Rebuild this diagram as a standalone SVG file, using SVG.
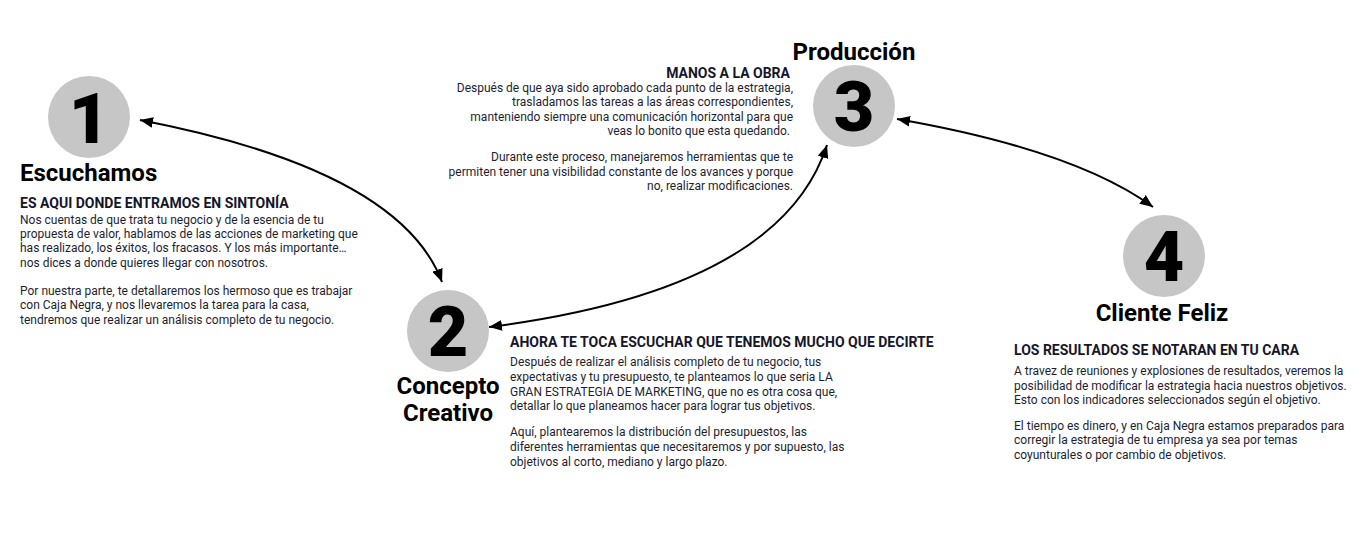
<svg xmlns="http://www.w3.org/2000/svg" width="1369" height="556" viewBox="0 0 1369 556">
<defs>
<style>
.circ{fill:#c6c6c6}
.num{font-family:Roboto,"Liberation Sans",sans-serif;font-weight:900;font-size:70px;fill:#000;text-anchor:middle}
.title{font-family:Roboto,"Liberation Sans",sans-serif;font-weight:700;font-size:24px;fill:#000}
.head{font-family:Roboto,"Liberation Sans",sans-serif;font-weight:700;font-size:14px;fill:#16162a}
.body{font-family:Roboto,"Liberation Sans",sans-serif;font-weight:400;font-size:12px;fill:#1e1e2e}
.conn{fill:none;stroke:#000;stroke-width:2}
</style>
<marker id="ah" viewBox="0 0 12 10" refX="12" refY="5" markerWidth="13" markerHeight="11" markerUnits="userSpaceOnUse" orient="auto-start-reverse">
<path d="M0,0 L12,5 L0,10 z" fill="#000"/>
</marker>
</defs>
<rect width="1369" height="556" fill="#fff"/>
<g id="connectors">
<path class="conn" d="M140,120 Q400,170 442,282" marker-start="url(#ah)" marker-end="url(#ah)"/>
<path class="conn" d="M489,327 Q780,290 827,145" marker-start="url(#ah)" marker-end="url(#ah)"/>
<path class="conn" d="M897,119 Q1075,150 1153,207" marker-start="url(#ah)" marker-end="url(#ah)"/>
</g>
<g id="node1">
<circle class="circ" cx="89" cy="117" r="41"/>
<text class="num" x="89" y="143">1</text>
<text class="title" x="20" y="181">Escuchamos</text>
<text class="head" x="20" y="207.5">ES AQUI DONDE ENTRAMOS EN SINTONÍA</text>
<text class="body" x="20" y="223.5">Nos cuentas de que trata tu negocio y de la esencia de tu</text>
<text class="body" x="20" y="238">propuesta de valor, hablamos de las acciones de marketing que</text>
<text class="body" x="20" y="252">has realizado, los éxitos, los fracasos. Y los más importante…</text>
<text class="body" x="20" y="266.5">nos dices a donde quieres llegar con nosotros.</text>
<text class="body" x="20" y="294.5">Por nuestra parte, te detallaremos los hermoso que es trabajar</text>
<text class="body" x="20" y="309">con Caja Negra, y nos llevaremos la tarea para la casa,</text>
<text class="body" x="20" y="323.5">tendremos que realizar un análisis completo de tu negocio.</text>
</g>
<g id="node2">
<circle class="circ" cx="448" cy="331" r="41"/>
<text class="num" x="448" y="356">2</text>
<text class="title" x="448" y="394" text-anchor="middle">Concepto</text>
<text class="title" x="448" y="421" text-anchor="middle">Creativo</text>
<text class="head" x="510" y="347">AHORA TE TOCA ESCUCHAR QUE TENEMOS MUCHO QUE DECIRTE</text>
<text class="body" x="510" y="366">Después de realizar el análisis completo de tu negocio, tus</text>
<text class="body" x="510" y="381">expectativas y tu presupuesto, te planteamos lo que seria LA</text>
<text class="body" x="510" y="396">GRAN ESTRATEGIA DE MARKETING, que no es otra cosa que,</text>
<text class="body" x="510" y="410">detallar lo que planeamos hacer para lograr tus objetivos.</text>
<text class="body" x="510" y="436">Aquí, plantearemos la distribución del presupuestos, las</text>
<text class="body" x="510" y="451">diferentes herramientas que necesitaremos y por supuesto, las</text>
<text class="body" x="510" y="466">objetivos al corto, mediano y largo plazo.</text>
</g>
<g id="node3">
<circle class="circ" cx="854" cy="106" r="41"/>
<text class="num" x="854" y="131">3</text>
<text class="title" x="854" y="60" text-anchor="middle">Producción</text>
<text class="head" x="790" y="78" text-anchor="end">MANOS A LA OBRA</text>
<text class="body" x="793" y="92" text-anchor="end">Después de que aya sido aprobado cada punto de la estrategia,</text>
<text class="body" x="793" y="106" text-anchor="end">trasladamos las tareas a las áreas correspondientes,</text>
<text class="body" x="793" y="121" text-anchor="end">manteniendo siempre una comunicación horizontal para que</text>
<text class="body" x="790" y="135" text-anchor="end">veas lo bonito que esta quedando.</text>
<text class="body" x="793" y="161" text-anchor="end">Durante este proceso, manejaremos herramientas que te</text>
<text class="body" x="793" y="176" text-anchor="end">permiten tener una visibilidad constante de los avances y porque</text>
<text class="body" x="793" y="190" text-anchor="end">no, realizar modificaciones.</text>
</g>
<g id="node4">
<circle class="circ" cx="1164" cy="256" r="41"/>
<text class="num" x="1164" y="281">4</text>
<text class="title" x="1162" y="321" text-anchor="middle">Cliente Feliz</text>
<text class="head" x="1014" y="355">LOS RESULTADOS SE NOTARAN EN TU CARA</text>
<text class="body" x="1014" y="375">A travez de reuniones y explosiones de resultados, veremos la</text>
<text class="body" x="1014" y="390">posibilidad de modificar la estrategia hacia nuestros objetivos.</text>
<text class="body" x="1014" y="404">Esto con los indicadores seleccionados según el objetivo.</text>
<text class="body" x="1014" y="430">El tiempo es dinero, y en Caja Negra estamos preparados para</text>
<text class="body" x="1014" y="444">corregir la estrategia de tu empresa ya sea por temas</text>
<text class="body" x="1014" y="459">coyunturales o por cambio de objetivos.</text>
</g>
</svg>
